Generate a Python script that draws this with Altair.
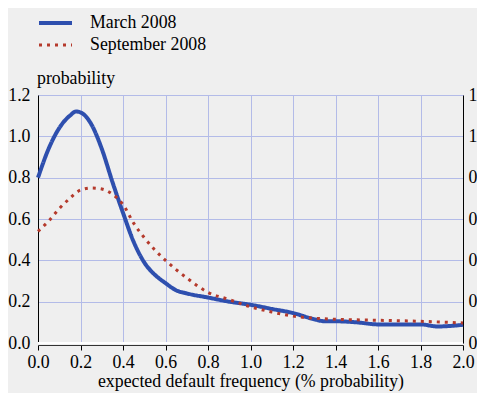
import altair as alt
import pandas as pd

series_names = ["March 2008", "September 2008"]

march_x = [0.00, 0.05, 0.10, 0.15, 0.18, 0.21, 0.25, 0.30, 0.35, 0.40, 0.45, 0.50,
           0.55, 0.60, 0.65, 0.70, 0.80, 0.90, 1.00, 1.10, 1.20, 1.30, 1.35, 1.40,
           1.50, 1.60, 1.70, 1.80, 1.88, 2.00]
march_y = [0.80, 0.94, 1.04, 1.10, 1.12, 1.11, 1.06, 0.94, 0.78, 0.63, 0.49, 0.39,
           0.33, 0.29, 0.255, 0.24, 0.22, 0.20, 0.185, 0.165, 0.145, 0.115, 0.105, 0.105,
           0.10, 0.09, 0.09, 0.09, 0.08, 0.088]

sept_x = [0.00, 0.05, 0.10, 0.15, 0.20, 0.25, 0.30, 0.35, 0.40, 0.45, 0.50, 0.55,
          0.60, 0.65, 0.70, 0.80, 0.90, 1.00, 1.10, 1.20, 1.30, 1.40, 1.60, 1.80, 2.00]
sept_y = [0.54, 0.59, 0.65, 0.70, 0.74, 0.75, 0.745, 0.72, 0.67, 0.58, 0.51, 0.45,
          0.40, 0.355, 0.315, 0.245, 0.21, 0.175, 0.15, 0.13, 0.12, 0.115, 0.11, 0.105, 0.097]

x_ticks = [0.0, 0.2, 0.4, 0.6, 0.8, 1.0, 1.2, 1.4, 1.6, 1.8, 2.0]
y_ticks = [0.0, 0.2, 0.4, 0.6, 0.8, 1.0, 1.2]

rows = [{"x": a, "y": b, "series": series_names[0]} for a, b in zip(march_x, march_y)]
rows += [{"x": a, "y": b, "series": series_names[1]} for a, b in zip(sept_x, sept_y)]
df = pd.DataFrame(rows)

FONT = "Liberation Serif"
FS = 17.8
BLUE = "#2e4fae"
RED = "#b53a2c"
GRID = "#b3bbe8"
BG = "#efefef"

txt = dict(labelFont=FONT, labelFontSize=FS, labelColor="black",
           titleFont=FONT, titleFontSize=FS, titleColor="black", titleFontWeight="normal")

x_scale = alt.Scale(domain=[0, 2], nice=False, zero=False)
y_scale = alt.Scale(domain=[0, 1.2], nice=False)

x_enc = alt.X(
    "x:Q",
    scale=x_scale,
    axis=alt.Axis(
        values=x_ticks, format=".1f",
        title="expected default frequency (% probability)",
        grid=True, gridColor=GRID, gridWidth=1,
        domainColor="#333333", domainWidth=1, offset=2,
        tickColor="black", tickSize=5, tickWidth=1,
        labelPadding=3, titlePadding=2, labelFlush=False, labelOverlap=False,
        **txt,
    ),
)

leg = dict(
    title=None, orient="none", legendX=-1, legendY=-83,
    symbolType="stroke", symbolSize=1089, symbolStrokeWidth=3.5,
    labelOffset=16, labelFont=FONT, labelFontSize=FS, labelColor="black",
    rowPadding=0, clipHeight=22,
)

color_enc = alt.Color(
    "series:N",
    scale=alt.Scale(domain=series_names, range=[BLUE, RED]),
    legend=alt.Legend(**leg),
)
dash_enc = alt.StrokeDash(
    "series:N",
    scale=alt.Scale(domain=series_names, range=[[1, 0], [3, 5]]),
    legend=alt.Legend(**leg),
)
width_enc = alt.StrokeWidth(
    "series:N",
    scale=alt.Scale(domain=series_names, range=[4, 3]),
    legend=None,
)

lines = alt.Chart(df).mark_line(interpolate="monotone").encode(
    x=x_enc,
    y=alt.Y(
        "y:Q", scale=y_scale,
        axis=alt.Axis(
            values=y_ticks, format=".1f", orient="left",
            title="probability", titleAngle=0, titleAlign="left",
            titleX=-1.5, titleY=-12, titleBaseline="alphabetic",
            ticks=False, domainColor="black", domainWidth=1,
            labelPadding=8, grid=True, gridColor=GRID, gridWidth=1,
            labelFlush=False, labelOverlap=False,
            **txt,
        ),
    ),
    color=color_enc,
    strokeDash=dash_enc,
    strokeWidth=width_enc,
)

zero_rule = alt.Chart(pd.DataFrame({"y": [y_ticks[0]]})).mark_rule(
    color="white", strokeWidth=2
).encode(y=alt.Y("y:Q", scale=y_scale, axis=None))

right = alt.Chart(df).mark_line(opacity=0).encode(
    x=x_enc,
    y=alt.Y(
        "y:Q", scale=y_scale,
        axis=alt.Axis(
            values=y_ticks, format=".1f", orient="right", title=None,
            ticks=False, domainColor="black", domainWidth=1,
            labelPadding=5, grid=False, labelFlush=False, labelOverlap=False,
            **txt,
        ),
    ),
    detail="series:N",
)

chart = (
    alt.layer(lines, right, zero_rule)
    .resolve_axis(y="independent")
    .properties(
        width=425, height=248,
        autosize=alt.AutoSizeParams(type="none"),
        padding={"left": 30, "top": 87, "right": 14, "bottom": 50},
        background=BG,
    )
    .configure_view(strokeWidth=0)
)

chart.save("out.html", embed_options={"renderer": "svg", "actions": False})
